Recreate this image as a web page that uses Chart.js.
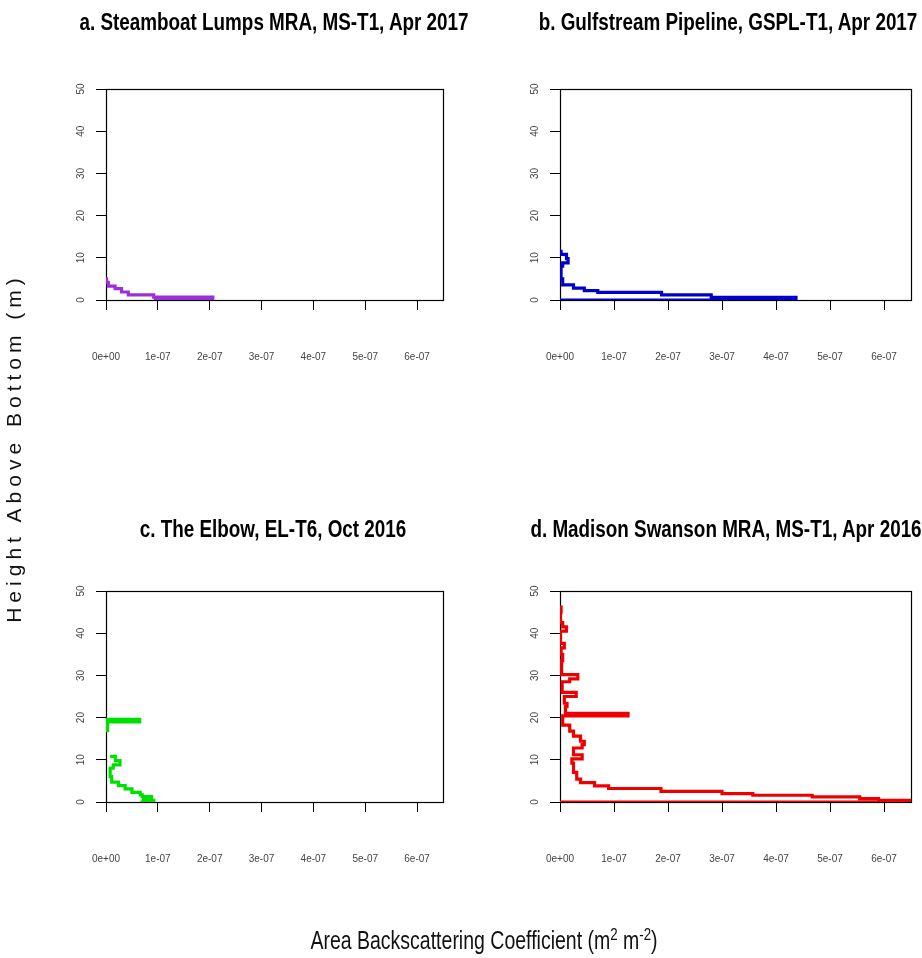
<!DOCTYPE html>
<html>
<head>
<meta charset="utf-8">
<title>Backscatter profiles</title>
<script src="https://cdn.jsdelivr.net/npm/chart.js@4.4.0/dist/chart.umd.min.js"></script>
<style>
    body { margin: 0; background: #fff; }
    #page { position: relative; width: 922px; height: 958px; overflow: hidden; background: #fff; }
    .panel { position: absolute; }
    .ptitle {
        position: absolute; white-space: nowrap; color: #000;
        font: bold 23px "Liberation Sans", Arial, sans-serif;
        transform: translate(-50%, -50%) scaleX(0.82);
    }
    #ylab {
        position: absolute; left: 14px; top: 448px; width: 400px; margin-left: -200px;
        text-align: center; font: 21px "Liberation Sans", Arial, sans-serif; letter-spacing: 5px;
        transform: translateY(-50%) rotate(-90deg); color: #111; white-space: nowrap;
    }
    #xlab {
        position: absolute; left: 484px; top: 940px; white-space: nowrap;
        font: 25px "Liberation Sans", Arial, sans-serif; color: #111;
        transform: translate(-50%, -50%) scaleX(0.78);
    }
    #xlab sup { font-size: 17px; vertical-align: 9px; line-height: 0; }
</style>
</head>
<body>
<div id="page">
    <div class="panel" style="left:0;top:0;width:454px;height:502px"><canvas id="chartA"></canvas></div>
    <div class="panel" style="left:454px;top:0;width:468px;height:502px"><canvas id="chartB"></canvas></div>
    <div class="panel" style="left:0;top:502px;width:454px;height:456px"><canvas id="chartC"></canvas></div>
    <div class="panel" style="left:454px;top:502px;width:468px;height:456px"><canvas id="chartD"></canvas></div>
    <div id="ylab">Height Above Bottom (m)</div>
    <div id="xlab">Area Backscattering Coefficient (m<sup>2</sup> m<sup>-2</sup>)</div>
</div>
<script>
(function () {

    // tick labels
    var xTickLabels = ["0e+00", "1e-07", "2e-07", "3e-07", "4e-07", "5e-07", "6e-07"];
    var yTickLabels = ["0", "10", "20", "30", "40", "50"];

    var titles = [
        "a. Steamboat Lumps MRA, MS-T1, Apr 2017",
        "b. Gulfstream Pipeline, GSPL-T1, Apr 2017",
        "c. The Elbow, EL-T6, Oct 2016",
        "d. Madison Swanson MRA, MS-T1, Apr 2016"
    ];

    // bin bottoms (m) and backscatter per bin (m2 m-2), bottom to top
    var aHeight = [0, 0.7, 1.2, 1.9, 2.7, 3.3, 4.2];
    var aValue = [2.06e-7, 0.92e-7, 0.43e-7, 0.30e-7, 0.175e-7, 0.045e-7, 0.01e-7];
    var aStart = 0.92e-7;
    var aTop = 5.0;

    var bHeight = [0, 0.6, 1.2, 1.8, 2.2, 2.8, 3.6, 5.0, 8.0, 8.8, 9.8, 10.8];
    var bValue = [4.37e-7, 2.8e-7, 1.88e-7, 0.7e-7, 0.45e-7, 0.25e-7, 0.05e-7, 0.02e-7, 0.05e-7, 0.15e-7, 0.12e-7, 0.02e-7];
    var bStart = 0;
    var bTop = 11.5;

    var cHeight = [0, 0.4, 0.9, 1.3, 1.7, 2.3, 3.1, 3.9, 4.7, 6.0, 8.0, 8.8, 9.8, 10.8, 12.0, 16.5, 19.0];
    var cValue = [0.92e-7, 0.72e-7, 0.88e-7, 0.70e-7, 0.66e-7, 0.50e-7, 0.37e-7, 0.24e-7, 0.11e-7, 0.08e-7, 0.14e-7, 0.27e-7, 0.18e-7, 0.08e-7, null, 0.03e-7, 0.65e-7];
    var cStart = 0.66e-7;
    var cTop = 19.6;

    var dHeight = [0, 0.4, 0.8, 1.2, 1.6, 2.0, 2.5, 3.2, 3.8, 4.6, 5.4, 7.0, 9.2, 10.2, 11.2, 12.8, 13.6, 14.4,
        15.6, 16.8, 18.2, 20.4, 21.0, 22.6, 23.4, 25.0, 26.0, 28.5, 29.2, 30.2, 33.5, 35.0, 36.5, 37.6, 40.5,
        41.5, 42.5, 45.0];
    var dValue = [7.0e-7, 5.9e-7, 5.55e-7, 4.67e-7, 3.57e-7, 3.0e-7, 1.87e-7, 0.9e-7, 0.64e-7, 0.38e-7, 0.31e-7,
        0.25e-7, 0.22e-7, 0.41e-7, 0.25e-7, 0.41e-7, 0.45e-7, 0.38e-7, 0.25e-7, 0.18e-7, 0.05e-7, 1.26e-7,
        0.10e-7, 0.13e-7, 0.08e-7, 0.30e-7, 0.04e-7, 0.18e-7, 0.33e-7, 0.03e-7, 0.05e-7, 0.02e-7, 0.08e-7,
        0.01e-7, 0.12e-7, 0.05e-7, 0.01e-7, 0.02e-7];
    var dStart = 0;
    var dTop = 46.2;

    var colors = ["#9B30D9", "#0000CD", "#00E000", "#EE0000"];

    var tickFont = '"Liberation Sans", Arial, sans-serif';

    // box round the plot area, like R's box()
    var boxPlugin = {
        id: 'plotBox',
        beforeDatasetsDraw: function (chart) {
            var a = chart.chartArea;
            var ctx = chart.ctx;
            ctx.save();
            ctx.strokeStyle = "#000";
            ctx.lineWidth = 1.2;
            ctx.strokeRect(Math.round(a.left) + 0.5, Math.round(a.top) + 0.5,
                Math.round(a.right - a.left), Math.round(a.bottom - a.top));
            ctx.restore();
        }
    };

    function profilePoints(start, heights, values, top) {
        var pts = [{x: start, y: 0}];
        for (var i = 0; i < heights.length; i++) {
            pts.push({x: values[i], y: heights[i]});
        }
        pts.push({x: 0, y: top});
        return pts;
    }

    function addTitle(text, cx, cy) {
        var div = document.createElement("div");
        div.className = "ptitle";
        div.style.left = cx + "px";
        div.style.top = cy + "px";
        div.textContent = text;
        document.getElementById("page").appendChild(div);
    }

    function makeChart(id, color, points, bottomPad) {
        var ctx = document.getElementById(id).getContext("2d");
        return new Chart(ctx, {
            type: 'line',
            data: {
                datasets: [{
                    data: points,
                    borderColor: color,
                    borderWidth: 3.2,
                    stepped: 'after',
                    pointRadius: 0,
                    fill: false,
                    spanGaps: false
                }]
            },
            options: {
                responsive: true,
                maintainAspectRatio: false,
                animation: false,
                events: [],
                layout: {
                    autoPadding: false,
                    padding: {left: 0, right: 11, top: 89, bottom: bottomPad}
                },
                plugins: {
                    legend: {display: false},
                    tooltip: {enabled: false},
                    title: {display: false}
                },
                scales: {
                    x: {
                        type: 'linear',
                        min: 0,
                        max: 6.5e-7,
                        border: {display: false},
                        grid: {drawOnChartArea: false, drawTicks: true, tickLength: 10, color: "#000"},
                        ticks: {
                            stepSize: 1e-7,
                            includeBounds: false,
                            padding: 41,
                            color: "#444",
                            font: {family: tickFont, size: 10},
                            callback: function (value) {
                                return xTickLabels[Math.round(value / 1e-7)];
                            }
                        },
                        afterFit: function (scale) {
                            scale.height = 60;
                            scale.paddingLeft = 0;
                            scale.paddingRight = 0;
                        }
                    },
                    y: {
                        type: 'linear',
                        min: 0,
                        max: 50,
                        border: {display: false},
                        grid: {drawOnChartArea: false, drawTicks: true, tickLength: 10, color: "#000"},
                        ticks: {
                            stepSize: 10,
                            minRotation: 90,
                            maxRotation: 90,
                            crossAlign: 'center',
                            padding: 9,
                            color: "#444",
                            font: {family: tickFont, size: 10},
                            callback: function (value) {
                                return yTickLabels[Math.round(value / 10)];
                            }
                        },
                        afterFit: function (scale) {
                            scale.width = 106;
                            scale.paddingTop = 0;
                            scale.paddingBottom = 0;
                        }
                    }
                }
            },
            plugins: [boxPlugin]
        });
    }

    addTitle(titles[0], 274, 22);
    addTitle(titles[1], 728, 22);
    addTitle(titles[2], 273, 529);
    addTitle(titles[3], 726, 529);

    makeChart("chartA", colors[0], profilePoints(aStart, aHeight, aValue, aTop), 142);
    makeChart("chartB", colors[1], profilePoints(bStart, bHeight, bValue, bTop), 142);
    makeChart("chartC", colors[2], profilePoints(cStart, cHeight, cValue, cTop), 96);
    makeChart("chartD", colors[3], profilePoints(dStart, dHeight, dValue, dTop), 96);

})();
</script>
</body>
</html>
